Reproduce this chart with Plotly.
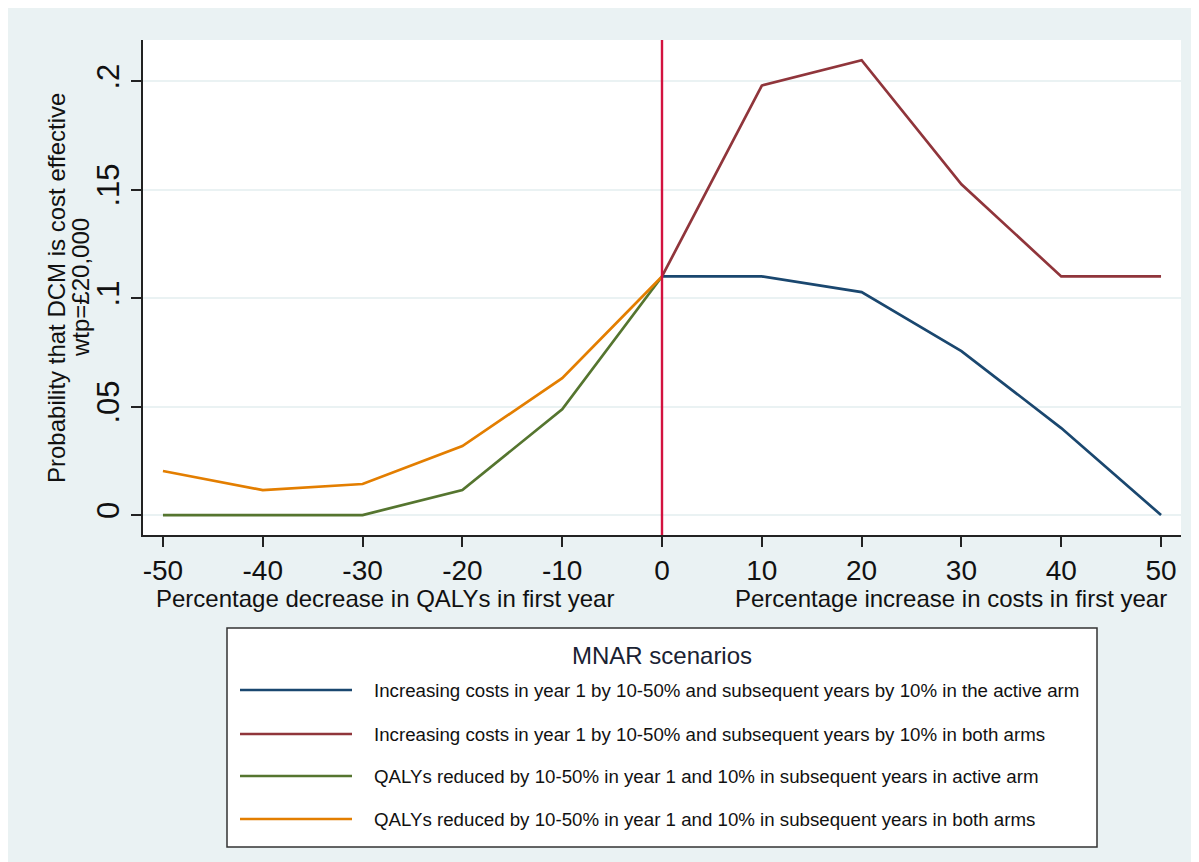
import plotly.graph_objects as go

# ---- data ----
x_costs = [0, 10, 20, 30, 40, 50]
x_qalys = [-50, -40, -30, -20, -10, 0]
costs_active = [0.110, 0.110, 0.1028, 0.0756, 0.0401, 0.0]
costs_both = [0.110, 0.198, 0.2097, 0.1525, 0.110, 0.110]
qalys_active = [0.0, 0.0, 0.0, 0.0115, 0.0488, 0.110]
qalys_both = [0.0203, 0.0115, 0.0143, 0.0318, 0.0631, 0.110]

x_tickvals = [-50, -40, -30, -20, -10, 0, 10, 20, 30, 40, 50]
x_ticktext = ["-50", "-40", "-30", "-20", "-10", "0", "10", "20", "30", "40", "50"]
y_tickvals = [0, 0.05, 0.1, 0.15, 0.2]
y_ticktext = ["0", ".05", ".1", ".15", ".2"]

names = [
    "Increasing costs in year 1 by 10-50% and subsequent years by 10% in the active arm",
    "Increasing costs in year 1 by 10-50% and subsequent years by 10% in both arms",
    "QALYs reduced by 10-50% in year 1 and 10% in subsequent years in active arm",
    "QALYs reduced by 10-50% in year 1 and 10% in subsequent years in both arms",
]
colors = ["#1a476f", "#90353b", "#55752f", "#e37e00"]
legend_title = "MNAR scenarios"
y_title_lines = ["Probability that DCM is cost effective", "wtp=£20,000"]
x_title_left = "Percentage decrease in QALYs in first year"
x_title_right = "Percentage increase in costs in first year"

OFF = 8  # page body margin
W, H = 1191, 854
L, R, T, B = 135, 18, 32, 327
PW, PH = W - L - R, H - T - B
FONT = "Liberation Sans, Arial, sans-serif"
BG = "#eaf2f3"
TXT = "#111111"


def px(x):
    """screenshot x pixel -> paper coord"""
    return (x - OFF - L) / PW


def py(y):
    """screenshot y pixel -> paper coord"""
    return (H - B - (y - OFF)) / PH


fig = go.Figure()
series = [
    (x_costs, costs_active),
    (x_costs, costs_both),
    (x_qalys, qalys_active),
    (x_qalys, qalys_both),
]
for (xs, ys), name, c in zip(series, names, colors):
    fig.add_trace(go.Scatter(x=xs, y=ys, mode="lines", name=name,
                             line=dict(color=c, width=2.7), showlegend=False))

shapes = []
# vertical reference line at x=0
shapes.append(dict(type="line", xref="x", yref="paper", x0=0, x1=0, y0=0, y1=1,
                   line=dict(color="#d3123f", width=2.4)))
# legend box
shapes.append(dict(type="rect", xref="paper", yref="paper",
                   x0=px(227), x1=px(1097), y0=py(847), y1=py(628),
                   fillcolor="white", line=dict(color="#333333", width=1.5)))


def ann(text, x, y, size, xanchor="center", color=TXT, angle=0):
    return dict(text=text, x=px(x), y=py(y), xref="paper", yref="paper",
                xanchor=xanchor, yanchor="middle", showarrow=False, textangle=angle,
                font=dict(size=size, color=color, family=FONT))


annotations = [
    ann(x_title_left, 385, 598, 24),
    ann(x_title_right, 951, 598, 24),
    ann(legend_title, 662, 655, 24, color="#1a2233"),
    ann(y_title_lines[0], 56, 288, 24, angle=-90),
    ann(y_title_lines[1], 80, 288, 24, angle=-90),
]
row_y = [690, 734, 776, 819]
for name, c, ry in zip(names, colors, row_y):
    shapes.append(dict(type="line", xref="paper", yref="paper",
                       x0=px(240), x1=px(352), y0=py(ry), y1=py(ry),
                       line=dict(color=c, width=2.7)))
    annotations.append(ann(name, 372, ry, 18.7, xanchor="left"))

fig.update_layout(
    width=W, height=H,
    margin=dict(l=L, r=R, t=T, b=B, pad=0),
    paper_bgcolor=BG,
    plot_bgcolor="white",
    font=dict(family=FONT, color=TXT),
    shapes=shapes,
    annotations=annotations,
    showlegend=False,
)
fig.update_xaxes(range=[-52, 52], tickvals=x_tickvals, ticktext=x_ticktext,
                 tickfont=dict(size=28, family=FONT, color=TXT),
                 showgrid=False, zeroline=False,
                 showline=True, linecolor="#222", linewidth=1.5,
                 ticks="outside", ticklen=10, tickwidth=1.5, tickcolor="#222")
fig.update_yaxes(range=[-0.0092, 0.219], tickvals=y_tickvals, ticktext=y_ticktext,
                 tickangle=-90,
                 tickfont=dict(size=31, family=FONT, color=TXT),
                 showgrid=True, gridcolor=BG, gridwidth=2, zeroline=False,
                 showline=True, linecolor="#222", linewidth=1.5,
                 ticks="outside", ticklen=10, tickwidth=1.5, tickcolor="#222")

fig.write_html("out.html", post_script="document.body.style.overflow='hidden';")
